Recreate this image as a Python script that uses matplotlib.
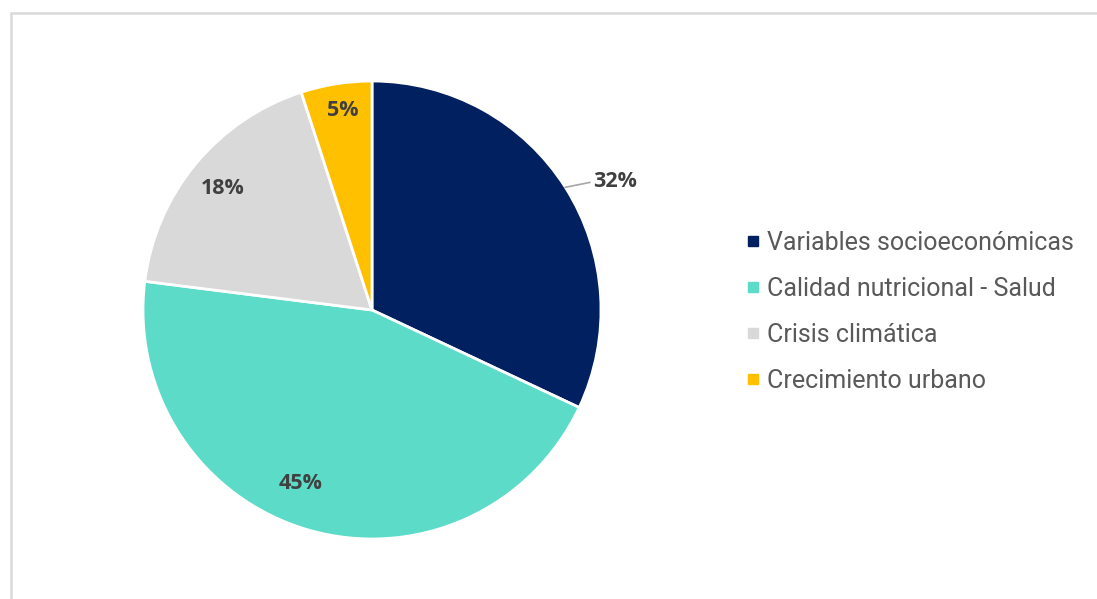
import numpy as np
import matplotlib.pyplot as plt
from matplotlib.lines import Line2D
from matplotlib.patches import Rectangle

categorias = ['Variables socioeconómicas', 'Calidad nutricional - Salud',
              'Crisis climática', 'Crecimiento urbano']
porcentajes = [32, 45, 18, 5]
colores = ['#002060', '#5BDBC8', '#D9D9D9', '#FFC000']

W, H = 1097, 599
fig = plt.figure(figsize=(W / 100, H / 100), dpi=100)
ax = fig.add_axes([0, 0, 1, 1])

# pie in pixel-like data units
cx, cy, r = 372, H - 310, 229
wedges, _ = ax.pie(porcentajes, colors=colores, startangle=90, counterclock=False,
                   center=(cx, cy), radius=r,
                   wedgeprops=dict(edgecolor='white', linewidth=2))
ax.set_xlim(0, W)
ax.set_ylim(0, H)
ax.set_aspect('equal')
ax.axis('off')

# label placement: (radius fraction, angle shift in degrees)
colocacion = [(1.2, -4.5), (0.82, -6.3), (0.84, 0.5), (0.88, -0.7)]
lbl_style = dict(fontsize=15.5, fontweight='bold', color='#404040',
                 family='Open Sans', ha='center', va='center')
for w, p, (f, da) in zip(wedges, porcentajes, colocacion):
    mid = np.deg2rad((w.theta1 + w.theta2) / 2)
    ang = mid + np.deg2rad(da)
    tx, ty = cx + f * r * np.cos(ang), cy + f * r * np.sin(ang)
    if f > 1:
        # outside label with leader line
        ex, ey = cx + r * np.cos(mid), cy + r * np.sin(mid)
        ax.plot([ex, tx - 25], [ey, ty - 1], color='#A6A6A6', lw=1.2)
    ax.text(tx, ty, f'{p}%', **lbl_style)

handles = [Line2D([], [], marker='s', linestyle='none', markersize=6.5,
                  markerfacecolor=c, markeredgecolor=c) for c in colores]
leg = fig.legend(handles, categorias, loc='center left',
                 bbox_to_anchor=(747.6 / W, (H - 312) / H),
                 frameon=False, borderpad=0, borderaxespad=0,
                 handlelength=0.47, handletextpad=0.3, labelspacing=0.88,
                 prop=dict(family='Roboto', size=18))
for t in leg.get_texts():
    t.set_color('#595959')

# light outer frame
fig.patches.append(Rectangle((11 / W, -0.1), 1.2, (H - 12.5) / H + 0.1,
                             transform=fig.transFigure, fill=False,
                             edgecolor='#D9D9D9', linewidth=1.8))

fig.savefig('out.png', dpi=100)
